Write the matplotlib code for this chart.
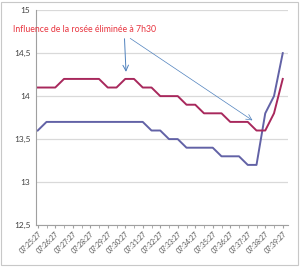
import matplotlib.pyplot as plt
from matplotlib.patches import Rectangle

# data: one reading every 30 s, labels every minute
times = []
for m in range(25, 40):
    times.append("07:%02d:27" % m)
    if m < 39:
        times.append("07:%02d:57" % m)

red = [14.1, 14.1, 14.1, 14.2, 14.2, 14.2, 14.2, 14.2, 14.1, 14.1,
       14.2, 14.2, 14.1, 14.1, 14.0, 14.0, 14.0, 13.9, 13.9, 13.8,
       13.8, 13.8, 13.7, 13.7, 13.7, 13.6, 13.6, 13.8, 14.2]
blue = [13.6, 13.7, 13.7, 13.7, 13.7, 13.7, 13.7, 13.7, 13.7, 13.7,
        13.7, 13.7, 13.7, 13.6, 13.6, 13.5, 13.5, 13.4, 13.4, 13.4,
        13.4, 13.3, 13.3, 13.3, 13.2, 13.2, 13.8, 14.0, 14.5]

yticks = [12.5, 13, 13.5, 14, 14.5, 15]
ylabels = ["12,5", "13", "13,5", "14", "14,5", "15"]
note = "Influence de la rosée éliminée à 7h30"

plt.rcParams['font.family'] = ['Lato', 'DejaVu Sans']

fig = plt.figure(figsize=(3.0, 2.67), dpi=100)
fig.patches.append(Rectangle((0.004, 0.006), 0.99, 0.988, transform=fig.transFigure,
                             fill=False, edgecolor="#C8C8C8", lw=0.8))
ax = fig.add_axes([0.12, 0.157, 0.84, 0.805])

x = list(range(len(times)))
ax.plot(x, blue, color="#6262A6", lw=1.4)
ax.plot(x, red, color="#A8285C", lw=1.4)

ax.set_ylim(12.5, 15)
ax.set_xlim(-0.2, 28.6)
ax.set_yticks(yticks)
ax.set_yticklabels(ylabels)
ax.yaxis.grid(True, color="#D9D9D9", lw=0.9)
ax.set_axisbelow(True)

ax.set_xticks(x, minor=True)
ax.set_xticks(x[::2])
ax.set_xticklabels(times[::2], rotation=45, ha="right", rotation_mode="anchor")

for s in ["top", "right"]:
    ax.spines[s].set_visible(False)
ax.spines["left"].set_color("#A0A0A0")
ax.spines["bottom"].set_color("#A0A0A0")
ax.spines["left"].set_linewidth(0.8)
ax.spines["bottom"].set_linewidth(0.8)

ax.tick_params(axis="y", length=0, labelsize=6, colors="#404040", pad=4)
ax.tick_params(axis="x", which="both", length=2.5, color="#A0A0A0",
               labelsize=5, labelcolor="#505050", pad=1)

ax.text(5.4, 14.78, note, color="#E8343F", fontsize=6.3, ha="center", va="center")
ax.annotate("", xy=(10.1, 14.25), xytext=(9.9, 14.7),
            arrowprops=dict(arrowstyle="->", color="#4F81BD", lw=0.7))
ax.annotate("", xy=(24.8, 13.7), xytext=(10.3, 14.69),
            arrowprops=dict(arrowstyle="->", color="#4F81BD", lw=0.5))

fig.savefig("out.png", dpi=100)
